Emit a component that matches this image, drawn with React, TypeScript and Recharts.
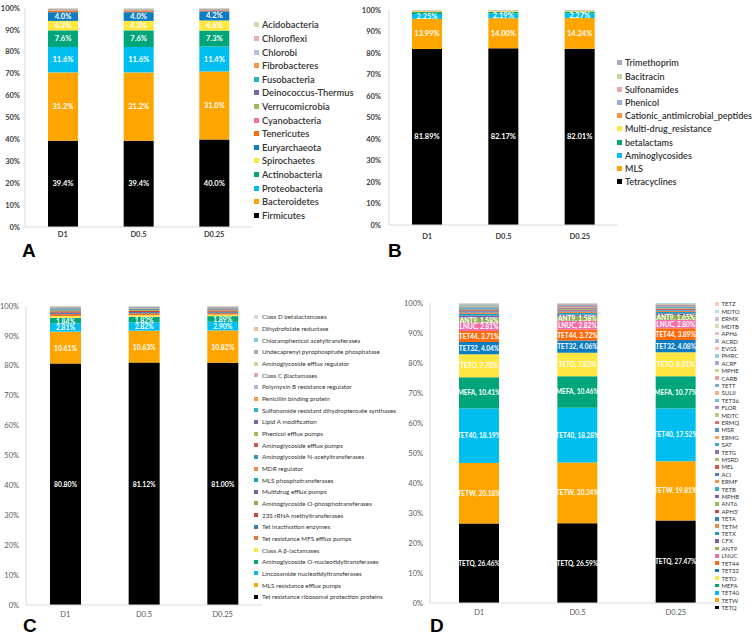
import React from 'react';
import { BarChart, Bar, XAxis, YAxis, LabelList } from 'recharts';

const FONT = 'Lato, "Liberation Sans", Arial, sans-serif';
const AXIS = '#d9d9d9';

const samples = ['D1', 'D0.5', 'D0.25'];
const pctTicks = [0, 10, 20, 30, 40, 50, 60, 70, 80, 90, 100];

// ---- A: phyla (bottom of the stack first)
const phyla = [
  'Firmicutes', 'Bacteroidetes', 'Proteobacteria', 'Actinobacteria', 'Spirochaetes',
  'Euryarchaeota', 'Tenericutes', 'Cyanobacteria', 'Verrucomicrobia', 'Deinococcus-Thermus',
  'Fusobacteria', 'Fibrobacteres', 'Chlorobi', 'Chloroflexi', 'Acidobacteria'
];
const phylaColors = [
  '#000000', '#ffa500', '#00bff0', '#00a67a', '#ffe640', '#0b7dc0', '#ff6a0a', '#f06eaa',
  '#9bbb59', '#8064a2', '#1fb4c8', '#f79646', '#b3c0dc', '#e8b0b0', '#cddcb4'
];
const phylaD1 = [39.4, 31.2, 11.6, 7.6, 4.3, 4.0, 0.5, 0.3, 0.2, 0.15, 0.15, 0.15, 0.2, 0.15, 0.1];
const phylaD05 = [39.4, 31.2, 11.6, 7.6, 4.3, 4.0, 0.45, 0.3, 0.2, 0.15, 0.15, 0.15, 0.2, 0.15, 0.1];
const phylaD025 = [40.0, 31.0, 11.4, 7.3, 4.6, 4.2, 0.4, 0.25, 0.2, 0.1, 0.1, 0.1, 0.15, 0.1, 0.05];

// ---- B: resistance classes
const classes = [
  'Tetracyclines', 'MLS', 'Aminoglycosides', 'betalactams', 'Multi-drug_resistance',
  'Cationic_antimicrobial_peptides', 'Phenicol', 'Sulfonamides', 'Bacitracin', 'Trimethoprim'
];
const classColors = [
  '#000000', '#ffa500', '#00bff0', '#00a67a', '#ffe640', '#f79646', '#95b3d7', '#e6a9ab', '#c4d79b', '#b3a2c7'
];
const classD1 = [81.89, 13.99, 2.25, 0.9, 0.35, 0.2, 0.15, 0.12, 0.1, 0.05];
const classD05 = [82.17, 14.0, 2.19, 0.8, 0.3, 0.18, 0.15, 0.1, 0.07, 0.04];
const classD025 = [82.01, 14.24, 2.27, 0.75, 0.28, 0.15, 0.13, 0.1, 0.05, 0.02];

// ---- C: mechanisms
const mechs = [
  'Tet resistance ribosomal protection proteins', 'MLS resistance efflux pumps',
  'Lincosamide nucleotidyltransferases', 'Aminoglycoside O-nucleotidyltransferases',
  'Class A β-lactamases', 'Tet resistance MFS efflux pumps', 'Tet inactivation enzymes',
  '23S rRNA methyltransferases', 'Aminoglycoside O-phosphotransferases', 'Multidrug efflux pumps',
  'MLS phosphotransferases', 'MDR regulator', 'Aminoglycoside N-acetyltransferases',
  'Aminoglycoside efflux pumps', 'Phenicol efflux pumps', 'Lipid A modification',
  'Sulfonamide resistant dihydropteroate synthases', 'Penicillin binding protein',
  'Polymyxin B resistance regulator', 'Class C βlactamases', 'Aminoglycoside efflux regulator',
  'Undecaprenyl pyrophosphate phosphatase', 'Chloramphenicol acetyltransferases',
  'Dihydrofolate reductase', 'Class D betalactamases'
];
const mechColors = [
  '#000000', '#ffa500', '#00bff0', '#00a67a', '#ffe640', '#e8743b', '#2e7db8', '#d6403a',
  '#8baf45', '#7a5ca0', '#1aa3b8', '#f2894a', '#3b8fcc', '#e05050', '#9bbb59', '#8064a2',
  '#2fb4c8', '#f79646', '#a9b8da', '#e8a3a8', '#c6d7a4', '#aba3c3', '#7fccd8', '#f9b98a', '#d3dbe8'
];
const mechD1 = [80.8, 10.61, 2.81, 1.84, 0.6, 0.7, 0.4, 0.45, 0.35, 0.25, 0.2, 0.15, 0.15, 0.1, 0.1, 0.08, 0.08, 0.06, 0.05, 0.05, 0.04, 0.04, 0.03, 0.03, 0.03];
const mechD05 = [81.12, 10.63, 2.82, 1.82, 0.55, 0.65, 0.37, 0.41, 0.32, 0.23, 0.18, 0.14, 0.14, 0.09, 0.09, 0.07, 0.07, 0.05, 0.05, 0.04, 0.04, 0.03, 0.03, 0.02, 0.02];
const mechD025 = [81.0, 10.82, 2.9, 1.89, 0.52, 0.6, 0.35, 0.38, 0.3, 0.22, 0.17, 0.13, 0.13, 0.09, 0.08, 0.07, 0.06, 0.05, 0.04, 0.04, 0.03, 0.03, 0.03, 0.02, 0.02];

// ---- D: genes
const genes = [
  'TETQ', 'TETW', 'TET40', 'MEFA', 'TETO', 'TET32', 'TET44', 'LNUC', 'ANT9', 'CFX', 'TETX',
  'TETM', 'TETA', "APH3'", 'ANT6', 'MPHB', 'TETB', 'ERMF', 'ACI', 'MEL', 'MSRD', 'TETG',
  'SAT', 'ERMG', 'MSR', 'ERMQ', 'MDTC', 'FLOR', 'TET36', 'SULII', 'TETT', 'CARB', 'MPHE',
  'ACRF', 'PMRC', 'EVGS', 'ACRD', 'APH6', 'MDTB', 'ERMX', 'MDTO', 'TETZ'
];
const geneColors = [
  '#000000', '#ffa500', '#00bff0', '#00a67a', '#ffe640', '#0b7dc0', '#ff6a0a', '#f06eaa',
  '#92b050', '#7f5fa8', '#1aa3b8', '#f08a4b', '#3d7fc0', '#cc4040', '#9bbb59', '#8064a2',
  '#2fb0c6', '#f79646', '#4f81bd', '#e05050', '#a8c070', '#8c72b0', '#30b0c0', '#f7a060',
  '#5b8fc8', '#e07070', '#b8cc88', '#a090c0', '#70c0d0', '#f9b080', '#80a8d8', '#e8a0a0',
  '#c0d890', '#b0a0d0', '#90d0e0', '#fac0a0', '#a8c0e0', '#eebbbb', '#d0e0b0', '#c8c0dc',
  '#b0dce8', '#fbd0b8'
];
const geneD1 = [26.46, 20.18, 18.19, 10.41, 7.7, 4.04, 3.71, 2.81, 1.58, 0.68, 0.55, 0.5, 0.4, 0.35, 0.3, 0.25, 0.22, 0.2, 0.18, 0.15, 0.13, 0.12, 0.1, 0.1, 0.09, 0.08, 0.07, 0.06, 0.06, 0.05, 0.04, 0.04, 0.03, 0.03, 0.03, 0.02, 0.02, 0.02, 0.02, 0.01, 0.01, 0.01];
const geneD05 = [26.59, 20.24, 18.28, 10.46, 7.83, 4.06, 3.72, 2.82, 1.58, 0.6, 0.5, 0.45, 0.36, 0.32, 0.27, 0.23, 0.2, 0.18, 0.16, 0.14, 0.12, 0.11, 0.09, 0.09, 0.08, 0.07, 0.06, 0.05, 0.05, 0.04, 0.04, 0.03, 0.03, 0.02, 0.02, 0.02, 0.02, 0.02, 0.01, 0.01, 0.01, 0.01];
const geneD025 = [27.47, 19.81, 17.52, 10.77, 8.01, 4.08, 3.89, 2.8, 1.65, 0.55, 0.45, 0.4, 0.33, 0.29, 0.25, 0.21, 0.18, 0.16, 0.14, 0.13, 0.11, 0.1, 0.08, 0.08, 0.07, 0.06, 0.05, 0.05, 0.04, 0.04, 0.03, 0.03, 0.02, 0.02, 0.02, 0.02, 0.01, 0.01, 0.01, 0.01, 0.01, 0.01];

type Margin = { top: number; right: number; bottom: number; left: number };
type Fmt = (name: string, v: number) => string;

interface PanelProps {
  left: number;
  top: number;
  width: number;
  height: number;
  margin: Margin;
  yWidth: number;
  xHeight: number;
  xTickSize: number;
  yTickSize: number;
  names: string[];
  colors: string[];
  values: number[][];
  barSize: number;
  labelled: number[];
  fmt: Fmt;
  labelSize: number;
  bold: boolean;
}

// single-line label in the middle of a segment (the default one wraps to the bar width)
const segmentLabel = (fmt: Fmt, name: string, size: number) => (props: any) => {
  const x = Number(props.x), y = Number(props.y);
  const w = Number(props.width), h = Number(props.height);
  return (
    <text
      x={x + w / 2}
      y={y + h / 2}
      textAnchor="middle"
      dominantBaseline="central"
      fill="#ffffff"
      fontSize={size}
      fontWeight={700}
      fontFamily={FONT}
    >
      {fmt(name, Number(props.value))}
    </text>
  );
};

const StackPanel = (p: PanelProps) => {
  const rows = samples.map((s, i) => {
    const r: Record<string, string | number> = { sample: s };
    p.names.forEach((_, j) => {
      r['k' + j] = p.values[i][j];
    });
    return r;
  });
  const tick = {
    fontSize: 7.5,
    fontFamily: FONT,
    fontWeight: p.bold ? 700 : 400,
    fill: p.bold ? '#404040' : '#595959'
  };
  return (
    <div style={{ position: 'absolute', left: p.left, top: p.top }}>
      <BarChart width={p.width} height={p.height} data={rows} margin={p.margin} barSize={p.barSize}>
        <XAxis
          dataKey="sample"
          height={p.xHeight}
          interval={0}
          tickLine={false}
          tickSize={p.xTickSize}
          tickMargin={2}
          axisLine={{ stroke: AXIS }}
          tick={tick}
        />
        <YAxis
          width={p.yWidth}
          domain={[0, 100]}
          ticks={pctTicks}
          interval={0}
          tickFormatter={(v: number) => v + '%'}
          tickLine={false}
          tickSize={p.yTickSize}
          tickMargin={2}
          axisLine={{ stroke: AXIS }}
          tick={tick}
        />
        {p.names.map((n, j) => (
          <Bar key={n} dataKey={'k' + j} stackId="s" fill={p.colors[j]} isAnimationActive={false}>
            {p.labelled.includes(j) && (
              <LabelList dataKey={'k' + j} content={segmentLabel(p.fmt, n, p.labelSize)} />
            )}
          </Bar>
        ))}
      </BarChart>
    </div>
  );
};

interface LegendProps {
  left: number;
  firstY: number;
  step: number;
  names: string[];
  colors: string[];
  fontSize: number;
  swatch: number;
  gap: number;
  weight: number;
}

const SwatchLegend = (p: LegendProps) => {
  const items = p.names.map((n, i) => ({ n, c: p.colors[i] })).reverse();
  return (
    <div
      style={{
        position: 'absolute',
        left: p.left,
        top: p.firstY - p.step / 2,
        fontFamily: FONT,
        fontSize: p.fontSize,
        fontWeight: p.weight,
        color: '#333'
      }}
    >
      {items.map(it => (
        <div
          key={it.n}
          style={{ height: p.step, display: 'flex', alignItems: 'center', whiteSpace: 'nowrap' }}
        >
          <span
            style={{ width: p.swatch, height: p.swatch, background: it.c, marginRight: p.gap, flex: 'none' }}
          />
          {it.n}
        </div>
      ))}
    </div>
  );
};

const Letter = ({ x, y, t }: { x: number; y: number; t: string }) => (
  <div
    style={{
      position: 'absolute',
      left: x,
      top: y,
      fontFamily: 'Arial, "Liberation Sans", sans-serif',
      fontWeight: 700,
      fontSize: 19,
      lineHeight: '17px',
      color: '#000'
    }}
  >
    {t}
  </div>
);

const pct1: Fmt = (_, v) => v.toFixed(1) + '%';
const pct2: Fmt = (_, v) => v.toFixed(2) + '%';
const named: Fmt = (n, v) => `${n}, ${v.toFixed(2)}%`;

export default function App() {
  return (
    <div style={{ position: 'absolute', left: 0, top: 0, width: 752, height: 635, background: '#fff', overflow: 'hidden' }}>
      <StackPanel
        left={0} top={0} width={255} height={245}
        margin={{ top: 8, right: 3, bottom: 0, left: 0 }}
        yWidth={25} xHeight={18} xTickSize={3} yTickSize={3}
        names={phyla} colors={phylaColors} values={[phylaD1, phylaD05, phylaD025]}
        barSize={30} labelled={[0, 1, 2, 3, 4, 5]} fmt={pct1} labelSize={7.5} bold
      />
      <SwatchLegend left={254} firstY={25} step={13.6} names={phyla} colors={phylaColors}
        fontSize={9.3} swatch={5} gap={3} weight={600} />
      <Letter x={22} y={242} t="A" />

      <StackPanel
        left={356} top={0} width={264} height={245}
        margin={{ top: 10, right: 2, bottom: 0, left: 0 }}
        yWidth={33} xHeight={20} xTickSize={7} yTickSize={6}
        names={classes} colors={classColors} values={[classD1, classD05, classD025]}
        barSize={30} labelled={[0, 1, 2]} fmt={pct2} labelSize={7.5} bold
      />
      <SwatchLegend left={617} firstY={63} step={13.2} names={classes} colors={classColors}
        fontSize={9} swatch={5} gap={3} weight={600} />
      <Letter x={388} y={242} t="B" />

      <StackPanel
        left={0} top={296} width={264} height={329}
        margin={{ top: 10, right: 2, bottom: 0, left: 0 }}
        yWidth={26} xHeight={20} xTickSize={5} yTickSize={5}
        names={mechs} colors={mechColors} values={[mechD1, mechD05, mechD025]}
        barSize={31} labelled={[0, 1, 2, 3]} fmt={pct2} labelSize={6.8} bold={false}
      />
      <SwatchLegend left={254} firstY={317} step={11.67} names={mechs} colors={mechColors}
        fontSize={6.3} swatch={4} gap={4} weight={400} />
      <Letter x={23} y={617} t="C" />

      <StackPanel
        left={405} top={293} width={322} height={330}
        margin={{ top: 10, right: 2, bottom: 0, left: 0 }}
        yWidth={25} xHeight={20} xTickSize={5} yTickSize={5}
        names={genes} colors={geneColors} values={[geneD1, geneD05, geneD025]}
        barSize={40} labelled={[0, 1, 2, 3, 4, 5, 6, 7, 8]} fmt={named} labelSize={6.5} bold={false}
      />
      <SwatchLegend left={715} firstY={304} step={7.42} names={genes} colors={geneColors}
        fontSize={6} swatch={3.5} gap={3} weight={400} />
      <Letter x={430} y={617} t="D" />
    </div>
  );
}
